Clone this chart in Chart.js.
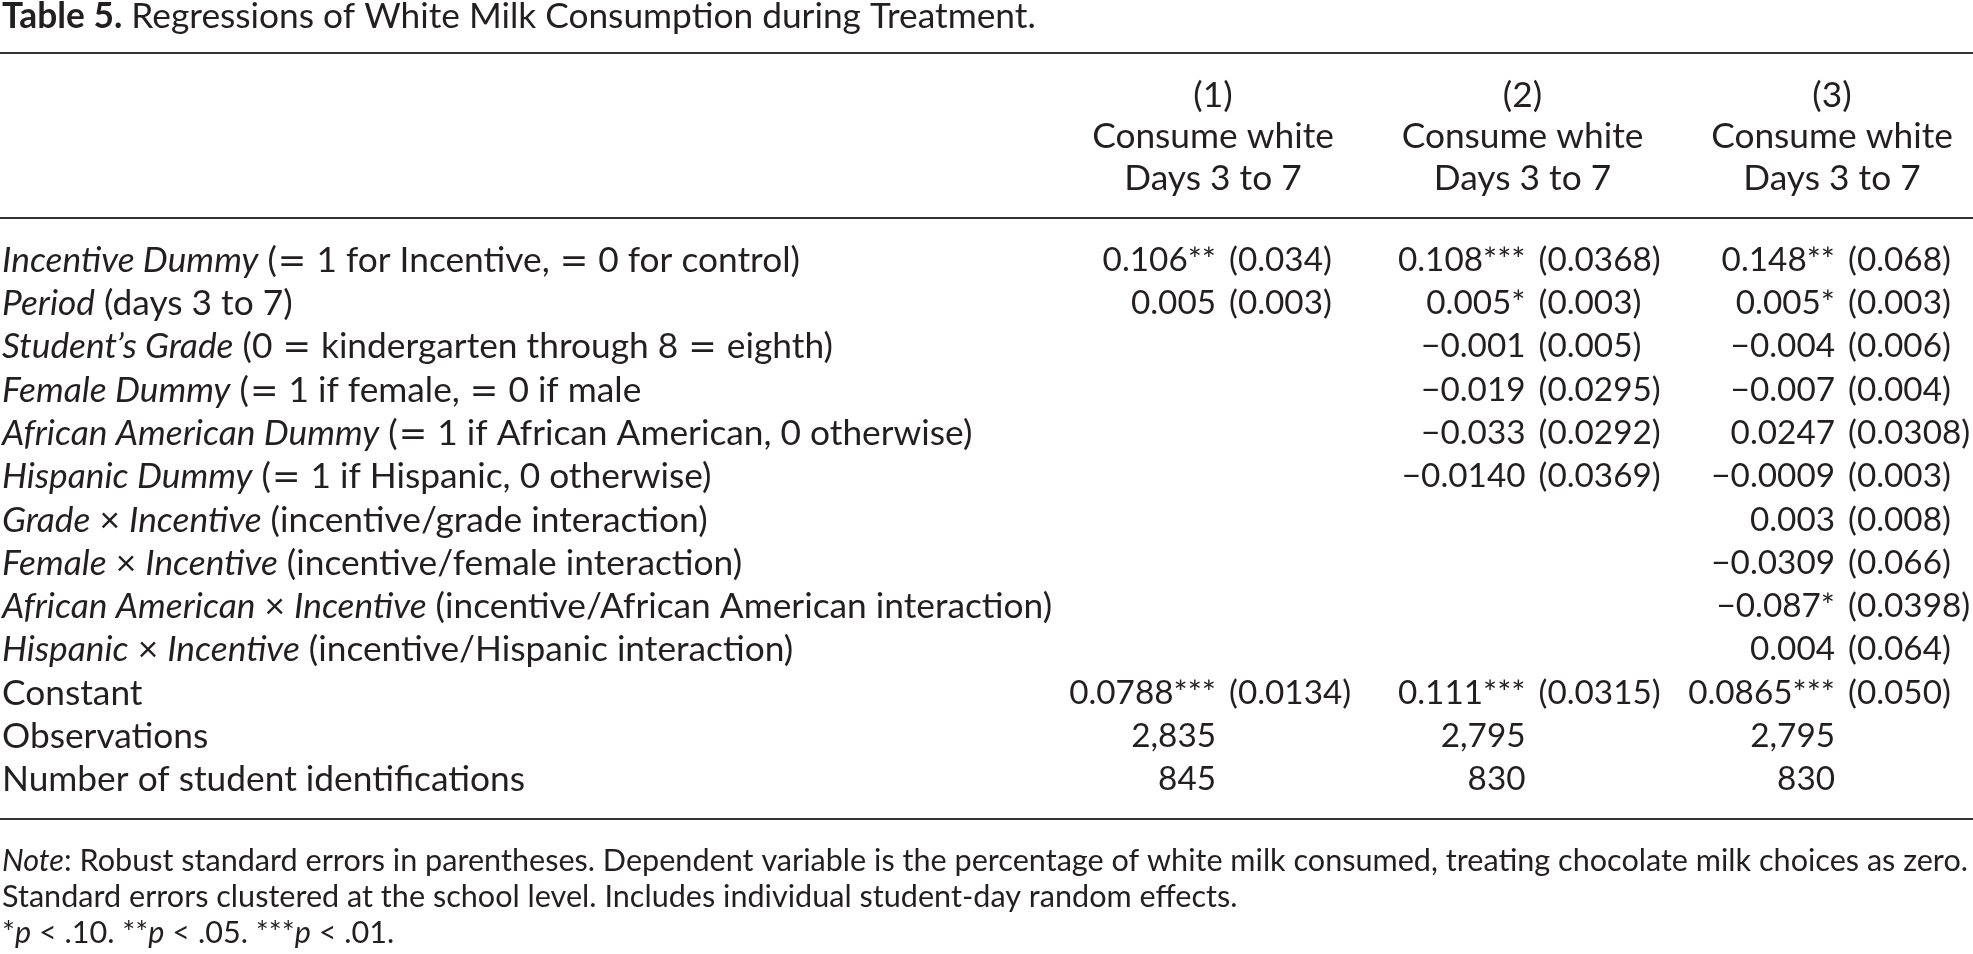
<!DOCTYPE html>
<html>
<head>
<meta charset="utf-8">
<script src="https://cdn.jsdelivr.net/npm/chart.js@4.4.1/dist/chart.umd.min.js"></script>
<style>
  html, body { margin: 0; padding: 0; background: #ffffff; }
  #wrap { width: 1973px; height: 954px; }
</style>
</head>
<body>
<div id="wrap"><canvas id="c" width="1973" height="954"></canvas></div>
<script>
// ---------- DATA ----------
const titleBold = "Table 5.";
const titleText = " Regressions of White Milk Consumption during Treatment.";

const columnNumbers = ["(1)", "(2)", "(3)"];
const columnLine2 = ["Consume white", "Consume white", "Consume white"];
const columnLine3 = ["Days 3 to 7", "Days 3 to 7", "Days 3 to 7"];

// _..._ marks italic text, {..} marks a math symbol
const rowLabels = [
  "_Incentive Dummy_ ({=} 1 for Incentive, {=} 0 for control)",
  "_Period_ (days 3 to 7)",
  "_Student\u2019s Grade_ (0 {=} kindergarten through 8 {=} eighth)",
  "_Female Dummy_ ({=} 1 if female, {=} 0 if male",
  "_African American Dummy_ ({=} 1 if African American, 0 otherwise)",
  "_Hispanic Dummy_ ({=} 1 if Hispanic, 0 otherwise)",
  "_Grade_ \u00d7 _Incentive_ (incentive/grade interaction)",
  "_Female_ \u00d7 _Incentive_ (incentive/female interaction)",
  "_African American_ \u00d7 _Incentive_ (incentive/African American interaction)",
  "_Hispanic_ \u00d7 _Incentive_ (incentive/Hispanic interaction)",
  "Constant",
  "Observations",
  "Number of student identifications"
];

const col1Coef = ["0.106**", "0.005", "", "", "", "", "", "", "", "", "0.0788***", "2,835", "845"];
const col1SE   = ["(0.034)", "(0.003)", "", "", "", "", "", "", "", "", "(0.0134)", "", ""];

const col2Coef = ["0.108***", "0.005*", "\u22120.001", "\u22120.019", "\u22120.033", "\u22120.0140", "", "", "", "", "0.111***", "2,795", "830"];
const col2SE   = ["(0.0368)", "(0.003)", "(0.005)", "(0.0295)", "(0.0292)", "(0.0369)", "", "", "", "", "(0.0315)", "", ""];

const col3Coef = ["0.148**", "0.005*", "\u22120.004", "\u22120.007", "0.0247", "\u22120.0009", "0.003", "\u22120.0309", "\u22120.087*", "0.004", "0.0865***", "2,795", "830"];
const col3SE   = ["(0.068)", "(0.003)", "(0.006)", "(0.004)", "(0.0308)", "(0.003)", "(0.008)", "(0.066)", "(0.0398)", "(0.064)", "(0.050)", "", ""];

const noteLines = [
  "_Note_: Robust standard errors in parentheses. Dependent variable is the percentage of white milk consumed, treating chocolate milk choices as zero.",
  "Standard errors clustered at the school level. Includes individual student-day random effects.",
  "*_p_ < .10. **_p_ < .05. ***_p_ < .01."
];

// ---------- STYLE ----------
const FONT = "Lato";
const INK = "#231f20";
let TITLE = 36;
let BODY = 35;
let NUM = 34;
let NOTE = 28;

const coefCols = [col1Coef, col2Coef, col3Coef];
const seCols = [col1SE, col2SE, col3SE];

function parseRich(str) {
  const segs = [];
  let italic = false, math = false, buf = "";
  const flush = () => { if (buf) segs.push({ text: buf, italic, math }); buf = ""; };
  for (const ch of str) {
    if (ch === "_") { flush(); italic = !italic; }
    else if (ch === "{") { flush(); math = true; }
    else if (ch === "}") { flush(); math = false; }
    else buf += ch;
  }
  flush();
  return segs;
}
function fontFor(seg, size) {
  if (seg.math) return Math.round(size * 0.95) + "px 'DejaVu Sans'";
  return (seg.italic ? "italic " : "") + size + "px " + FONT;
}
function segWidth(ctx, s, size) {
  ctx.font = fontFor(s, size);
  return ctx.measureText(s.text).width + (s.math ? 2 : 0);
}
function richWidth(ctx, segs, size) {
  let w = 0;
  for (const s of segs) w += segWidth(ctx, s, size);
  return w;
}
function drawRich(ctx, segs, x, baseline, size, align) {
  const w = richWidth(ctx, segs, size);
  let cx = align === "right" ? x - w : align === "center" ? x - w / 2 : x;
  ctx.textAlign = "left";
  ctx.textBaseline = "alphabetic";
  for (const s of segs) {
    ctx.font = fontFor(s, size);
    ctx.fillText(s.text, cx + (s.math ? 1 : 0), baseline);
    cx += segWidth(ctx, s, size);
  }
}

// scale the substitute font so its text widths match the original typeface
function fitSizes(ctx) {
  const fit = (str, size, target) => {
    const w = richWidth(ctx, parseRich(str), size);
    return Math.round(size * target / w * 10) / 10;
  };
  BODY = fit(rowLabels[0], BODY, 796);
  NUM = fit(col1SE[0], NUM, 103);
  NOTE = fit(noteLines[0], NOTE, 1966);
  TITLE = Math.max(BODY, 34);
}

const tablePlugin = {
  id: "tablePlugin",
  afterDatasetsDraw(chart) {
    const ctx = chart.ctx;
    const xs = chart.scales.x, ys = chart.scales.y;
    const area = chart.chartArea;
    ctx.save();
    fitSizes(ctx);
    ctx.fillStyle = INK;

    // title
    ctx.textAlign = "left"; ctx.textBaseline = "alphabetic";
    ctx.font = "bold " + TITLE + "px " + FONT;
    ctx.fillText(titleBold, 2, 28);
    const tw = ctx.measureText(titleBold).width;
    ctx.font = TITLE + "px " + FONT;
    ctx.fillText(titleText, 2 + tw, 28);

    // rules
    ctx.strokeStyle = "#333333";
    ctx.lineWidth = 2;
    [53, area.top - 20, area.bottom + 18].forEach(y => {
      ctx.beginPath(); ctx.moveTo(0, y); ctx.lineTo(1973, y); ctx.stroke();
    });

    // column headers
    ctx.font = BODY + "px " + FONT;
    ctx.textAlign = "center";
    for (let c = 0; c < columnNumbers.length; c++) {
      const x = xs.getPixelForValue(c) - 3;
      ctx.fillText(columnNumbers[c], x, area.top - 131);
      ctx.fillText(columnLine2[c], x, area.top - 90);
      ctx.fillText(columnLine3[c], x, area.top - 48);
    }

    // row labels
    for (let i = 0; i < rowLabels.length; i++) {
      const y = ys.getPixelForValue(i) + 12;
      drawRich(ctx, parseRich(rowLabels[i]), 2, y, BODY, "left");
    }

    // cells from dataset elements
    ctx.font = NUM + "px " + FONT;
    chart.data.datasets.forEach((ds, di) => {
      const meta = chart.getDatasetMeta(di);
      meta.data.forEach((el, k) => {
        const row = ds.data[k].y;
        const base = el.y + 11;
        ctx.textAlign = "right";
        ctx.fillText(coefCols[di][row], el.x, base);
        const se = seCols[di][row];
        if (se) {
          ctx.textAlign = "left";
          ctx.fillText(se, el.x + 13, base);
        }
      });
    });

    // notes
    const noteBase = [area.bottom + 70, area.bottom + 106, area.bottom + 142];
    noteLines.forEach((ln, i) => drawRich(ctx, parseRich(ln), 2, noteBase[i], NOTE, "left"));

    ctx.restore();
  }
};

function buildDatasets() {
  return coefCols.map((col, c) => ({
    label: columnNumbers[c],
    data: col.map((v, i) => v ? { x: c, y: i } : null).filter(Boolean),
    pointRadius: 0,
    pointHoverRadius: 0,
    showLine: false
  }));
}

function make() {
  new Chart(document.getElementById("c"), {
    type: "scatter",
    data: { datasets: buildDatasets() },
    options: {
      responsive: false,
      animation: false,
      devicePixelRatio: 1,
      events: [],
      layout: { padding: { left: 1216, right: 138, top: 238, bottom: 153 } },
      plugins: { legend: { display: false }, tooltip: { enabled: false } },
      scales: {
        x: { type: "linear", min: 0, max: 2, display: false },
        y: { type: "linear", min: -0.5, max: rowLabels.length - 0.5, reverse: true, display: false }
      }
    },
    plugins: [tablePlugin]
  });
}

const loads = [
  document.fonts.load("35px " + FONT),
  document.fonts.load("bold 35px " + FONT),
  document.fonts.load("italic 35px " + FONT),
  document.fonts.load("35px 'DejaVu Sans'")
];
Promise.all(loads).then(make, make);
</script>
</body>
</html>
